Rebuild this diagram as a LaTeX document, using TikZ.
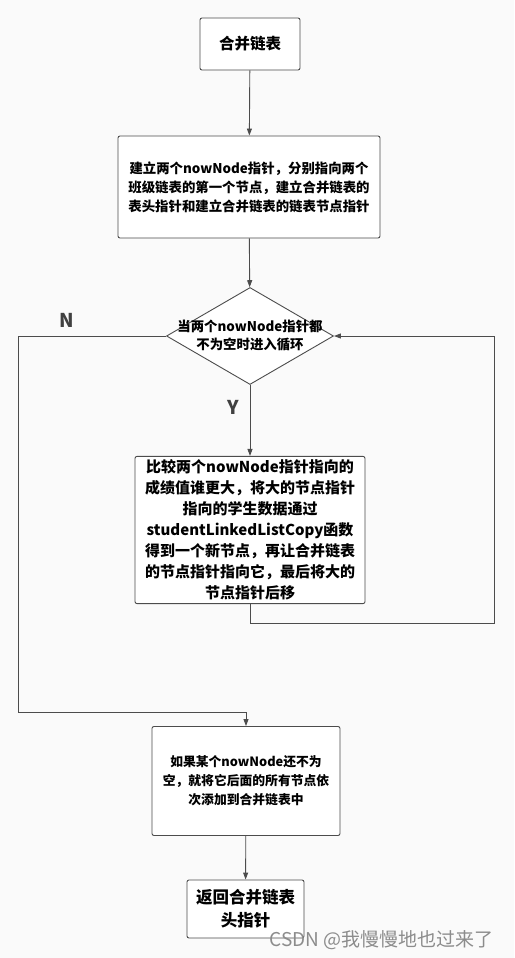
\documentclass[tikz,border=0pt]{standalone}
\usepackage{fontspec}
\setmainfont{Noto Sans CJK SC}
\usetikzlibrary{shapes.geometric, arrows.meta}

\begin{document}
\begin{tikzpicture}[x=1pt, y=-1pt, >={Triangle[length=7pt, width=5pt]}, line width=0.9pt,
    box/.style={draw=black!70, fill=white, rounded corners=2pt, align=center, font=\bfseries},
    choice/.style={draw=black!70, fill=white, diamond, inner sep=0pt},
    flow/.style={draw=black!70, ->},
    tag/.style={font=\bfseries\fontsize{19}{19}\selectfont, text=black!75}]
    \useasboundingbox (0,0) rectangle (514,958);
    \fill[black!2] (0,0) rectangle (514,958);

    % Nodes
    \node[box, minimum width=100pt, minimum height=52pt, font=\bfseries\fontsize{15.5}{20}\selectfont] (start) at (250,44) {合并链表};
    \node[box, minimum width=262pt, minimum height=102pt, font=\bfseries\fontsize{13.4}{19}\selectfont] (init) at (249,187)
        {建立两个nowNode指针，分别指向两个\\班级链表的第一个节点，建立合并链表的\\表头指针和建立合并链表的链表节点指针};
    \node[choice, minimum width=167pt, minimum height=97pt,
        label={[align=center, font=\bfseries\fontsize{13.4}{18}\selectfont]center:当两个nowNode指针都\\不为空时进入循环}] (loop) at (250,336) {};
    \node[box, minimum width=230pt, minimum height=141pt, font=\bfseries\fontsize{15}{21}\selectfont] (cmp) at (250,530)
        {比较两个nowNode指针指向的\\成绩值谁更大，将大的节点指针\\指向的学生数据通过\\studentLinkedListCopy函数\\得到一个新节点，再让合并链表\\的节点指针指向它，最后将大的\\节点指针后移};
    \node[box, minimum width=188pt, minimum height=109pt, font=\bfseries\fontsize{12.8}{19}\selectfont] (rest) at (246,781)
        {如果某个nowNode还不为\\空，就将它后面的所有节点依\\次添加到合并链表中};
    \node[box, minimum width=117pt, minimum height=58pt, font=\bfseries\fontsize{16.5}{23}\selectfont] (ret) at (245.5,909)
        {返回合并链表\\头指针};

    \coordinate (nleft) at (18,336);
    \coordinate (nbot) at (18,712);
    \coordinate (njoin) at (246,712);
    \coordinate (ybot) at (250,623);
    \coordinate (yright) at (494,623);
    \coordinate (ytop) at (494,336);

    % Transitions
    \draw[flow] (start) -- (init);
    \draw[flow] (init) -- (loop);
    \draw[flow] (loop) -- (cmp);
    \draw[flow] (cmp.south) -- (ybot) -- (yright) -- (ytop) -- (loop.east);
    \draw[flow] (loop.west) -- (nleft) -- (nbot) -- (njoin) -- (rest.north);
    \draw[flow] (rest) -- (ret);

    % Labels
    \node[tag] (nlabel) at (67,320) {N};
    \node[tag] (ylabel) at (233,407) {Y};
    \node[font=\fontsize{19}{19}\selectfont, text=black!45, anchor=west] (mark) at (266,940) {CSDN @我慢慢地也过来了};
\end{tikzpicture}
\end{document}
